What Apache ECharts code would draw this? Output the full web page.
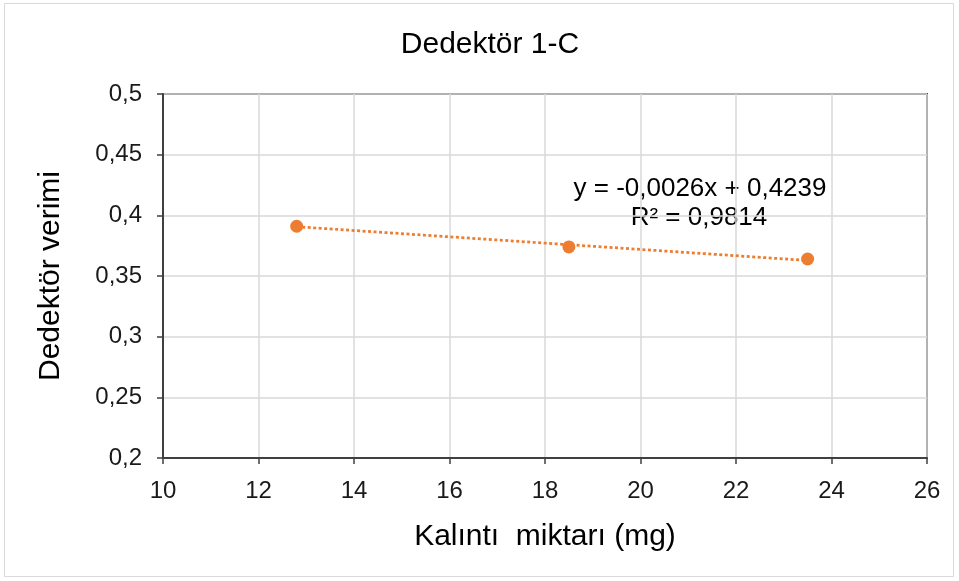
<!DOCTYPE html>
<html>
<head>
<meta charset="utf-8">
<script src="https://cdn.jsdelivr.net/npm/echarts@6/dist/echarts.min.js"></script>
<style>
  html, body { margin: 0; padding: 0; background: #fff; }
  #chart { width: 959px; height: 581px; }
</style>
</head>
<body>
<div id="chart"></div>
<script>
// Measured detector efficiency against residue mass
const residueMg = [12.8, 18.5, 23.5];
const efficiency = [0.391, 0.374, 0.364];

// Linear trend fit (slope, intercept, R²)
const trendSlope = -0.0026;
const trendIntercept = 0.4239;
const trendR2 = '0,9814';

const titleText = 'Dedektör 1-C';
const xName = 'Kalıntı  miktarı (mg)';
const yName = 'Dedektör verimi';

const fmt = v => String(+v.toFixed(4)).replace('.', ',');

// Trend line spans the measured x range
const xs = [Math.min(...residueMg), Math.max(...residueMg)];
const trendData = xs.map(x => [x, trendSlope * x + trendIntercept]);

const chart = echarts.init(document.getElementById('chart'), null, { renderer: 'canvas' });
const font = '"Liberation Sans", Arial, sans-serif';
const axisColor = '#404040';

chart.setOption({
  animation: false,
  backgroundColor: '#fff',
  textStyle: { fontFamily: font },
  grid: {
    left: 163, right: 32, top: 94, bottom: 123,
    show: true, borderColor: axisColor, borderWidth: 2
  },
  xAxis: {
    type: 'value',
    min: 10, max: 26, interval: 2,
    name: xName,
    nameLocation: 'middle',
    nameGap: 64,
    nameTextStyle: { fontFamily: font, fontSize: 30, color: '#000' },
    axisLine: { show: true, onZero: false, lineStyle: { color: axisColor, width: 2 } },
    axisTick: { show: true, inside: false, length: 6, lineStyle: { color: axisColor, width: 1.5 } },
    axisLabel: { fontFamily: font, fontSize: 24, color: '#1a1a1a', margin: 21 },
    splitLine: { show: true, lineStyle: { color: '#d9d9d9', width: 1.5 } }
  },
  yAxis: {
    type: 'value',
    min: 0.2, max: 0.5, interval: 0.05,
    name: yName,
    nameLocation: 'middle',
    nameGap: 97,
    nameRotate: 90,
    nameTextStyle: { fontFamily: font, fontSize: 30, color: '#000' },
    axisLine: { show: true, onZero: false, lineStyle: { color: axisColor, width: 2 } },
    axisTick: { show: true, inside: false, length: 6, lineStyle: { color: axisColor, width: 1.5 } },
    axisLabel: { fontFamily: font, fontSize: 24, color: '#1a1a1a', margin: 21, formatter: fmt },
    splitLine: { show: true, lineStyle: { color: '#d9d9d9', width: 1.5 } }
  },
  series: [
    {
      type: 'line',
      data: trendData,
      showSymbol: false,
      symbol: 'none',
      lineStyle: { color: '#ED7D31', width: 2.75, type: [3, 2.5] },
      z: 2
    },
    {
      type: 'scatter',
      data: residueMg.map((x, i) => [x, efficiency[i]]),
      symbolSize: 13,
      itemStyle: { color: '#ED7D31', opacity: 1 },
      z: 3
    }
  ],
  graphic: [
    {
      type: 'rect',
      shape: { x: 4.5, y: 3.5, width: 949, height: 573 },
      style: { fill: 'none', stroke: '#d9d9d9', lineWidth: 1 },
      silent: true, z: -10
    },
    {
      type: 'text',
      x: 490, y: 30,
      style: {
        text: titleText,
        font: '30px ' + font, fill: '#000',
        align: 'center', verticalAlign: 'top'
      }
    },
    {
      type: 'text',
      x: 700, y: 176,
      style: {
        text: 'y = ' + fmt(trendSlope) + 'x + ' + fmt(trendIntercept),
        font: '26px ' + font, fill: '#000',
        align: 'center', verticalAlign: 'top'
      }
    },
    {
      type: 'text',
      x: 699, y: 205,
      style: {
        text: 'R² = ' + trendR2,
        font: '26px ' + font, fill: '#000',
        align: 'center', verticalAlign: 'top'
      }
    }
  ]
});
</script>
</body>
</html>
